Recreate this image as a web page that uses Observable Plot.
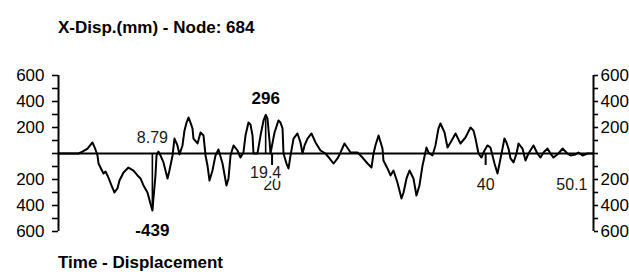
<!DOCTYPE html>
<html><head><meta charset="utf-8">
<script src="https://cdn.jsdelivr.net/npm/d3@7"></script>
<script src="https://cdn.jsdelivr.net/npm/@observablehq/plot@0.6"></script>
<style>
html,body{margin:0;padding:0;background:#fff;}
#wrap{position:relative;width:629px;height:274px;overflow:hidden;font-family:"Liberation Sans",Arial,sans-serif;}
#chart{position:absolute;left:0;top:0;}
.t{position:absolute;left:58px;font-weight:bold;font-size:17px;line-height:17px;color:#000;white-space:nowrap;}
</style></head><body>
<div id="wrap"><div id="chart"></div><div class="t" id="title" style="top:19px"></div><div class="t" id="cap" style="top:254px"></div></div>
<script>
const titleText = "X-Disp.(mm) - Node: 684";
const captionText = "Time - Displacement";

const time = [0.00,1.87,2.25,2.72,3.18,3.46,3.65,3.75,3.93,4.21,4.40,4.59,4.96,5.24,5.52,5.71,6.09,6.55,7.02,7.40,7.68,7.96,8.33,8.61,8.79,
9.08,9.18,9.36,9.55,9.83,10.21,10.39,10.68,10.86,11.14,11.33,11.61,11.80,11.99,12.17,12.36,12.55,12.64,13.02,13.30,13.58,13.77,13.95,14.14,14.42,
14.70,14.98,15.36,15.73,15.92,16.11,16.39,16.76,17.04,17.32,17.51,17.79,17.98,18.17,18.26,18.63,18.92,19.20,19.40,19.57,19.76,19.85,20.23,20.60,
20.79,20.98,21.07,21.35,21.54,21.73,22.01,22.38,22.66,22.85,23.04,23.32,23.69,24.07,24.53,25.00,25.38,25.75,26.13,26.41,26.78,27.16,27.34,28.00,
28.47,28.94,29.31,29.50,29.68,29.97,30.34,30.43,30.81,31.09,31.37,31.74,32.12,32.31,32.59,32.87,33.24,33.52,33.80,34.09,34.46,34.65,35.02,35.30,
35.58,35.77,36.15,36.43,36.71,37.18,37.64,38.11,38.58,38.86,39.05,39.33,39.61,39.89,40.17,40.45,40.64,40.83,41.11,41.30,41.58,41.76,41.95,42.14,
42.33,42.61,42.89,43.08,43.45,43.73,44.01,44.48,44.85,45.14,45.42,45.79,46.07,46.35,46.82,47.20,47.66,47.94,48.41,48.69,49.07,49.54,50.10];

const disp = [0,0,15,38,85,31,-15,-77,-108,-154,-138,-169,-246,-300,-269,-208,-146,-108,-131,-169,-192,-246,-300,-385,-439,
-169,-15,15,-15,-69,-192,-131,-15,115,62,-8,62,177,238,277,238,192,115,77,162,138,-15,-92,-208,-131,
-15,31,-77,-246,-192,-15,62,23,-31,8,138,238,223,138,0,0,138,254,296,269,100,0,162,254,
238,192,0,-77,-115,-15,115,154,85,0,62,115,154,85,23,0,-38,-77,-38,8,77,31,8,8,
-31,-77,-108,0,62,138,38,-54,-115,-169,-131,-223,-346,-300,-192,-131,-192,-323,-246,-92,46,8,-15,62,
192,231,162,46,85,154,77,123,200,177,115,0,-31,23,62,46,-15,-77,-154,-77,38,115,85,38,
-38,-69,0,77,38,-54,0,62,0,-31,8,38,0,-31,0,38,0,-15,-8,8,-15,0,0];

const yTicks = [-600,-500,-400,-300,-200,-100,0,100,200,300,400,500,600];
const yLabelTicks = [-600,-400,-200,200,400,600];
const xTicks = [20, 40];
const endTime = 50.1;
const extremeTimes = [8.79, 19.4];
const extremeValues = [-439, 296];

document.getElementById("title").textContent = titleText;
document.getElementById("cap").textContent = captionText;

const data = time.map((t, i) => ({t, v: disp[i]}));
const minPt = {t: extremeTimes[0], v: extremeValues[0]};
const maxPt = {t: extremeTimes[1], v: extremeValues[1]};
const fmt = d => yLabelTicks.includes(d) ? String(Math.abs(d)) : "";
const FONT = '"Liberation Sans", Arial, sans-serif';

const plot = Plot.plot({
  width: 629, height: 274,
  marginLeft: 58, marginRight: 36, marginTop: 75, marginBottom: 43,
  style: {fontFamily: FONT, fontSize: "17px", color: "#000", background: "transparent", overflow: "visible"},
  x: {domain: [0, endTime], axis: null},
  y: {domain: [-600, 600], label: null},
  marks: [
    Plot.axisY({ticks: yTicks, tickFormat: fmt, anchor: "left", tickSize: 6, tickPadding: 8, strokeWidth: 1.6, label: null, fontSize: 17}),
    Plot.axisY({ticks: yTicks, tickFormat: fmt, anchor: "right", tickSize: 4, tickPadding: 3, strokeWidth: 1.6, label: null, fontSize: 17}),
    Plot.ruleX([0, endTime], {y1: -600, y2: 600, stroke: "#000", strokeWidth: 2}),
    Plot.ruleY([0], {stroke: "#000", strokeWidth: 2}),
    Plot.ruleX(xTicks, {y1: 0, y2: -92, stroke: "#000", strokeWidth: 2}),
    Plot.text(xTicks, {x: d => d, y: 0, text: d => String(d), dy: 31, fontSize: 16, fill: "#1a1a1a"}),
    Plot.line(data, {x: "t", y: "v", stroke: "#000", strokeWidth: 2}),
    Plot.ruleX([minPt, maxPt], {x: "t", y1: 0, y2: "v", stroke: "#000", strokeWidth: 1.6}),
    Plot.text([minPt], {x: "t", y: 0, text: d => String(d.t), dy: -16, fontSize: 16, fill: "#1a1a1a"}),
    Plot.text([maxPt], {x: "t", y: 0, text: d => String(d.t), dy: 19, fontSize: 16, fill: "#1a1a1a", stroke: "white", strokeWidth: 6, paintOrder: "stroke"}),
    Plot.text([minPt], {x: "t", y: "v", text: d => String(d.v), dy: 20, fontSize: 17, fontWeight: "bold", fill: "#000"}),
    Plot.text([maxPt], {x: "t", y: "v", text: d => String(d.v), dy: -16, fontSize: 17, fontWeight: "bold", fill: "#000"}),
    Plot.text([endTime], {x: d => d, y: 0, text: d => String(d), textAnchor: "end", dx: -6, dy: 31, fontSize: 16, fill: "#1a1a1a"})
  ]
});
document.getElementById("chart").appendChild(plot);
</script>
</body></html>
